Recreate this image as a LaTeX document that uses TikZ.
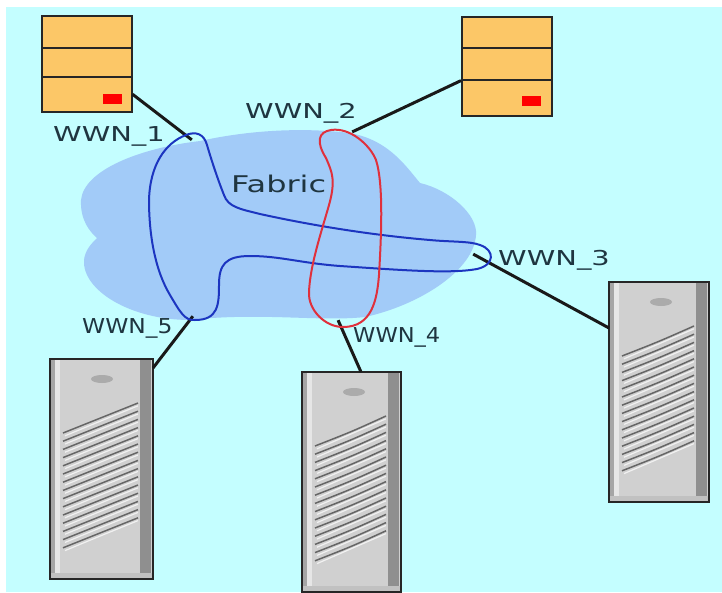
\documentclass[tikz,border=0pt]{standalone}
\usepackage{fontspec}
\setmainfont{DejaVu Sans}
\definecolor{bgc}{HTML}{C4FEFF}
\definecolor{cloudc}{HTML}{A2CBF8}
\definecolor{stor}{HTML}{FCC767}
\definecolor{srvbody}{HTML}{D0D0D0}
\definecolor{srvdark}{HTML}{8F8F8F}
\definecolor{srvlight}{HTML}{E6E6E6}
\definecolor{srvslot}{HTML}{666666}
\definecolor{txtc}{HTML}{1F3540}
\definecolor{zoneb}{HTML}{1C35C0}
\definecolor{zoner}{HTML}{E0303C}
\tikzset{
  x=1pt,y=-1pt,
  wire/.style={line width=3pt,draw=black!90},
  zone/.style={line width=2pt},
  lbl/.style={text=txtc,font=\fontsize{20.5}{20.5}\selectfont,inner sep=0pt,anchor=base west},
  storebox/.style={draw=black!85,line width=1.6pt,fill=stor,inner sep=0pt,minimum width=90pt,minimum height=32pt},
  led/.style={fill=red,draw=none,inner sep=0pt,minimum width=19pt,minimum height=10pt},
  pt/.style={inner sep=0pt,minimum size=0pt}
}
\newcommand{\srv}[5]{% name, left, top, w, h
  \node[draw=none,fill=srvbody,minimum width=#4pt,minimum height=#5pt,inner sep=0pt,anchor=north west] (#1) at (#2,#3) {};
  \begin{scope}[shift={(#2,#3)}]
    \fill[srvdark!80] (0,0) rectangle (5,#5);
    \fill[srvlight] (5,0) rectangle (10,#5);
    \fill[srvdark] ({#4-13},0) rectangle ({#4-2},#5);
    \fill[srvdark!55] (0,{#5-6}) rectangle (#4,#5);
    \fill[srvdark!75] (52,20) ellipse (11pt and 4pt);
    \foreach \i in {0,...,14}{
      \draw[white!70!srvbody,line width=1.2pt] (15,{76.8+\i*8.2}) .. controls (50,{62.3+\i*8.2}) .. ({#4-15},{46.8+\i*8.2});
      \draw[srvslot,line width=1.5pt] (13,{74+\i*8.2}) .. controls (50,{59.5+\i*8.2}) .. ({#4-15},{44+\i*8.2});
    }
    \draw[black!85,line width=1.6pt] (0,0) rectangle (#4,#5);
  \end{scope}
}
\begin{document}
\begin{tikzpicture}
\useasboundingbox (0,0) rectangle (722,592);
\fill[white] (0,0) rectangle (722,592);
\fill[bgc] (6,7) rectangle (722,592);
% cloud
\fill[cloudc] (81,200) .. controls (84,170) and (140,148) .. (200,141)
  .. controls (250,130) and (300,128) .. (340,132)
  .. controls (385,135) and (405,165) .. (420,183)
  .. controls (450,190) and (478,215) .. (476,235)
  .. controls (474,270) and (420,305) .. (365,317)
  .. controls (320,322) and (260,312) .. (190,320)
  .. controls (130,320) and (82,290) .. (84,260)
  .. controls (85,250) and (92,243) .. (97,238)
  .. controls (90,232) and (80,220) .. (81,200) -- cycle;
% wire ends
\node[pt] (z1) at (192,140) {};
\node[pt] (z2) at (352,132) {};
\node[pt] (z3) at (473,254) {};
\node[pt] (z4) at (338,320) {};
\node[pt] (z5) at (193,316) {};
% devices
\node[storebox,anchor=north west] (s1a) at (41,15) {};
\node[storebox,anchor=north west] (s1b) at (41,47) {};
\node[storebox,anchor=north west,minimum height=35pt] (s1c) at (41,76) {};
\node[led] (l1) at (112.5,98.5) {};
\node[storebox,anchor=north west] (s2a) at (461,16) {};
\node[storebox,anchor=north west] (s2b) at (461,47) {};
\node[storebox,anchor=north west,minimum height=36pt] (s2c) at (461,79) {};
\node[led] (l2) at (531,101) {};
\srv{srvA}{50}{359}{103}{220}
\srv{srvB}{302}{372}{99}{220}
\srv{srvC}{609}{282}{100}{220}
\draw[wire] (s1c.east) -- (z1);
\draw[wire] (s2b.south west) -- (z2);
\draw[wire] (z3) -- (srvC.west |- 0,328);
\draw[wire] (z4) -- (361,372);
\draw[wire] (z5) -- (153,368);
% zones
\draw[zoneb,zone] (186,135)
  .. controls (196,131) and (204,134) .. (207,145)
  .. controls (212,162) and (218,180) .. (224,195)
  .. controls (228,207) and (240,209) .. (260,214)
  .. controls (310,225) and (370,235) .. (430,240)
  .. controls (450,242) and (470,241) .. (480,245)
  .. controls (495,250) and (495,265) .. (477,269)
  .. controls (450,274) and (400,270) .. (340,266)
  .. controls (300,263) and (280,256) .. (250,256)
  .. controls (225,256) and (219,265) .. (219,285)
  .. controls (219,305) and (218,320) .. (195,320)
  .. controls (185,321) and (180,312) .. (170,295)
  .. controls (155,270) and (149,235) .. (149,200)
  .. controls (150,165) and (165,143) .. (186,135) -- cycle;
\draw[zoner,zone] (331,130)
  .. controls (350,127) and (370,145) .. (376,160)
  .. controls (384,185) and (381,240) .. (379,275)
  .. controls (377,300) and (372,327) .. (343,327)
  .. controls (325,327) and (308,310) .. (309,292)
  .. controls (310,265) and (322,230) .. (329,205)
  .. controls (336,180) and (332,172) .. (326,158)
  .. controls (316,142) and (318,132) .. (331,130) -- cycle;
% labels
\node[lbl] (t1) at (53,141) {\scalebox{1.41}[1]{WWN\_1}};
\node[lbl] (t2) at (245,118) {\scalebox{1.41}[1]{WWN\_2}};
\node[lbl] (t3) at (498,265) {\scalebox{1.41}[1]{WWN\_3}};
\node[lbl] (t4) at (353,342) {\scalebox{1.1}[1]{WWN\_4}};
\node[lbl] (t5) at (82,333) {\scalebox{1.14}[1]{WWN\_5}};
\node[lbl,font=\fontsize{23}{23}\selectfont] (tf) at (231,192) {\scalebox{1.39}[1]{Fabric}};
\end{tikzpicture}
\end{document}
